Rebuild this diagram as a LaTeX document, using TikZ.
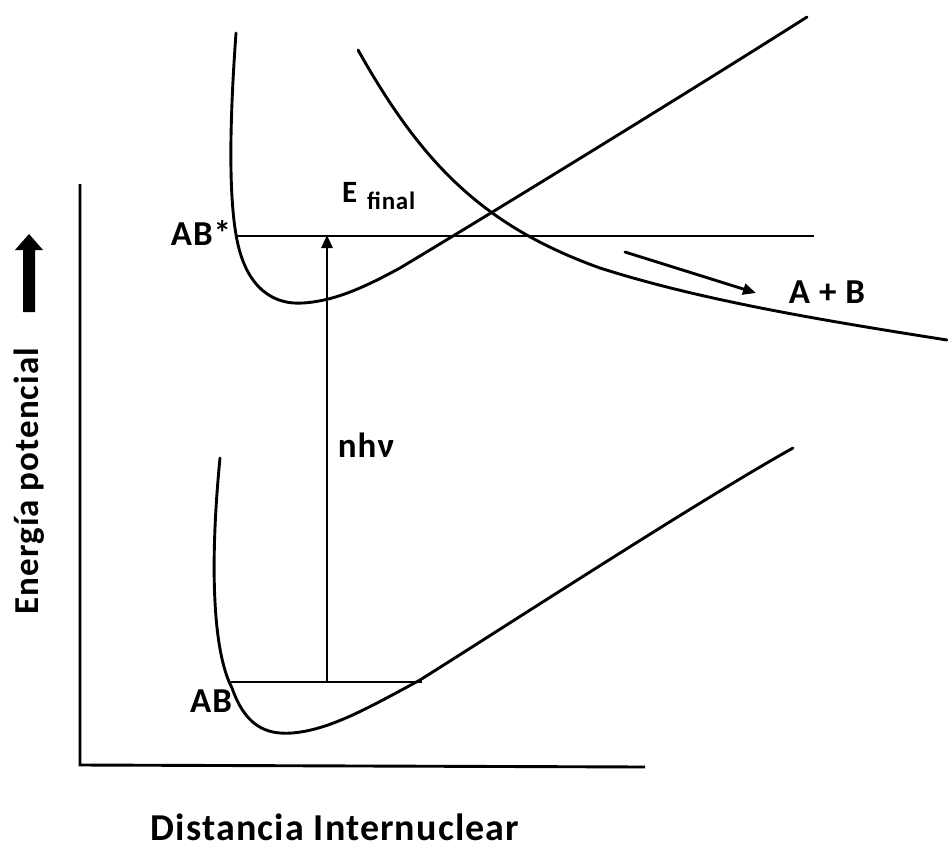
\documentclass[tikz,border=0pt]{standalone}
\usepackage{fontspec}
\setmainfont{Carlito}
\newfontfamily\lblfont[LetterSpace=3]{Carlito}
\usetikzlibrary{arrows.meta}
\begin{document}
\begin{tikzpicture}[x=1pt,y=-1pt,
  curve/.style={line width=2.9pt, line cap=round},
  lbl/.style={font=\lblfont\bfseries\fontsize{35}{42}\selectfont, inner sep=0pt},
  biglbl/.style={font=\lblfont\bfseries\fontsize{38}{44}\selectfont, inner sep=0pt},
  sublbl/.style={font=\lblfont\bfseries\fontsize{25}{30}\selectfont, inner sep=0pt},
  tip/.style={-{Triangle[length=13pt,width=11pt]}}]
\useasboundingbox[fill=white] (0,0) rectangle (948,849);

% axes
\coordinate (ytop) at (80,184);
\coordinate (orig) at (80,765);
\coordinate (xend) at (645,767);
\draw[curve, line cap=butt] (ytop) -- (orig) -- (xend);

% thick arrow
\fill (23,312) -- (23,250) -- (15,250) -- (29,234) -- (43,250) -- (35,250) -- (35,312) -- cycle;

% axis labels
\node[lbl, rotate=90] (ylab) at (29,481) {Energía potencial};
\node[biglbl, anchor=base] (xlab) at (335,840) {Distancia Internuclear};

% excited state curve
\draw[curve] (236,33) .. controls (229,130) and (229,200) .. (237,240)
  .. controls (247,290) and (275,305) .. (303,303)
  .. controls (335,301) and (365,287) .. (400,268)
  .. controls (500,208) and (700,85) .. (807,17);

% repulsive curve
\draw[curve] (358,50) .. controls (420,160) and (480,225) .. (600,268)
  .. controls (700,300) and (820,320) .. (947,340);

% ground state curve
\draw[curve] (220,458) .. controls (210,560) and (212,650) .. (232,688)
  .. controls (245,725) and (265,735) .. (292,733)
  .. controls (330,730) and (370,707) .. (420,680)
  .. controls (520,617) and (700,500) .. (793,448);

% levels
\coordinate (exL) at (237,236);
\coordinate (exR) at (814,236);
\coordinate (gL) at (231,682);
\coordinate (gR) at (422,682);
\draw[curve, line cap=butt] (exL) -- (exR);
\draw[curve, line cap=butt] (gL) -- (gR);

% transition arrow
\coordinate (trB) at (327,682);
\coordinate (trT) at (327,235);
\draw[curve, line cap=butt, tip] (trB) -- (trT);

% dissociation arrow
\coordinate (dA) at (625,252);
\coordinate (dB) at (756,293);
\draw[curve, tip] (dA) -- (dB);

% labels
\node[lbl] (abs) at (201,233) {AB*};
\node[lbl] (ab) at (211,701) {AB};
\node[lbl] (apb) at (827,292) {A + B};
\node[lbl] (nhv) at (366,445) {nhν};
\node[lbl, anchor=base west, font=\lblfont\bfseries\fontsize{31}{36}\selectfont] (ef) at (342,202) {E};
\node[sublbl, anchor=base west] (efs) at (367,209) {final};
\end{tikzpicture}
\end{document}
